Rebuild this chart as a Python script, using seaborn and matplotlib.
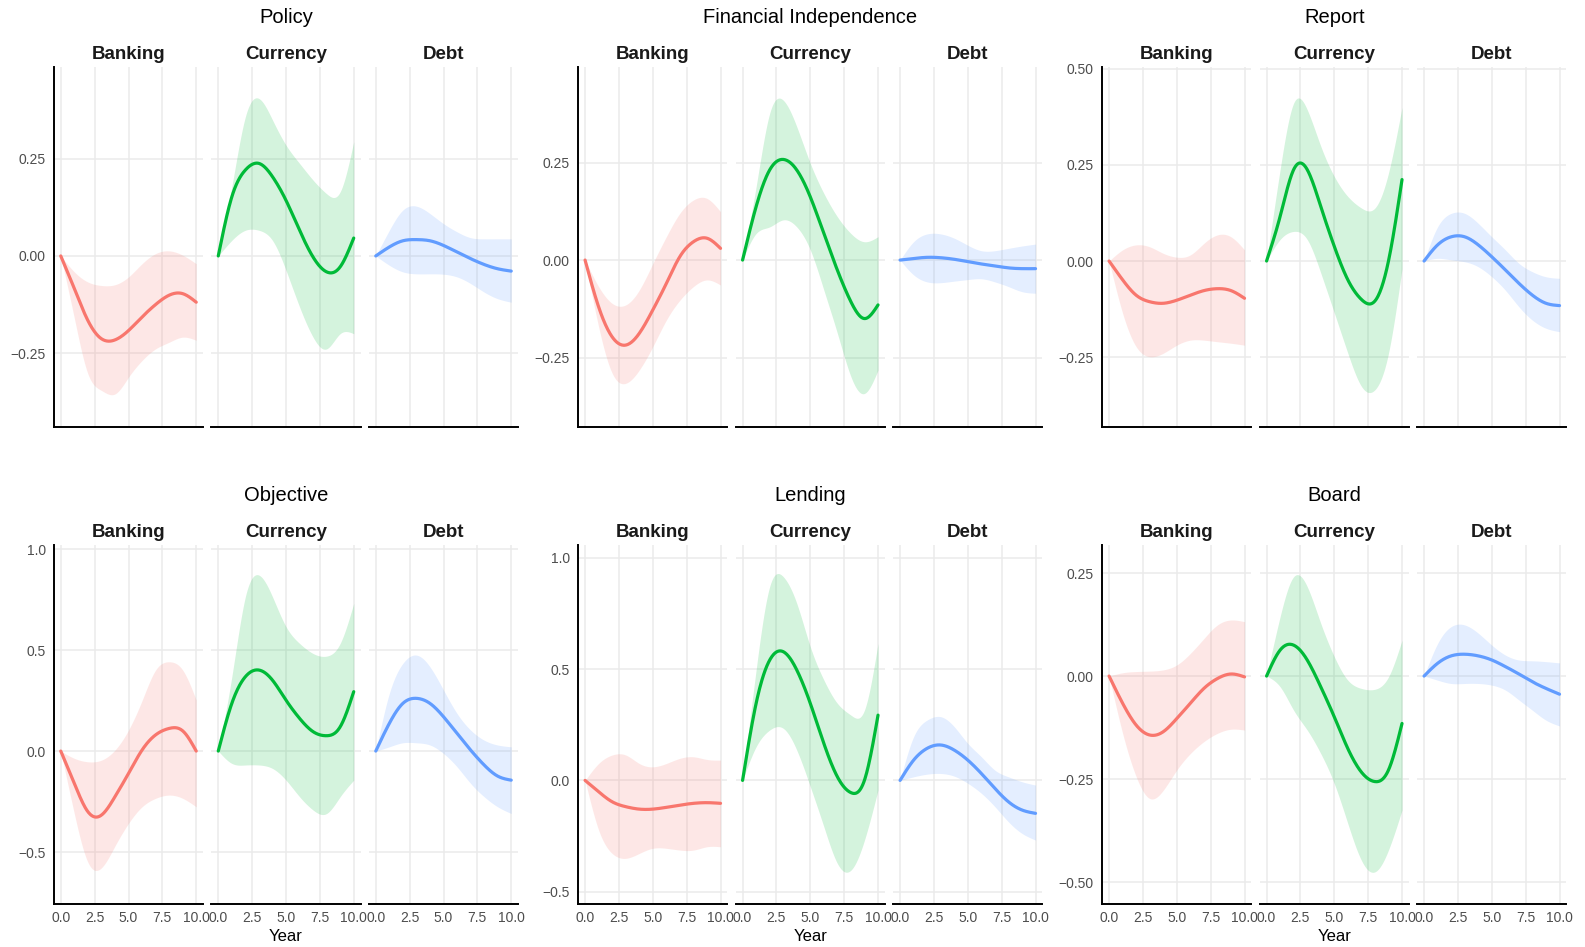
import numpy as np
import pandas as pd
import matplotlib
matplotlib.use("Agg")
import matplotlib.pyplot as plt
import seaborn as sns

# ---------------------------------------------------------------------------
# Data: fitted trend with lower / upper confidence band, sampled at Year 0..10
# ---------------------------------------------------------------------------
years = [0, 1, 2, 3, 4, 5, 6, 7, 8, 9, 10]
facets = ["Banking", "Currency", "Debt"]
groups = ["Policy", "Financial Independence", "Report", "Objective", "Lending", "Board"]

policy_banking = [0, -0.084, -0.166, -0.213, -0.216, -0.192, -0.157, -0.125, -0.101, -0.097, -0.119]
policy_banking_lo = [0, -0.16, -0.303, -0.346, -0.355, -0.312, -0.269, -0.239, -0.222, -0.209, -0.217]
policy_banking_hi = [0, -0.041, -0.067, -0.076, -0.074, -0.054, -0.02, 0.006, 0.013, 0.002, -0.02]
policy_currency = [0, 0.152, 0.221, 0.238, 0.204, 0.143, 0.066, -0.003, -0.041, -0.028, 0.046]
policy_currency_lo = [0, 0.04, 0.066, 0.066, 0.04, -0.037, -0.131, -0.209, -0.239, -0.20, -0.20]
policy_currency_hi = [0, 0.178, 0.358, 0.405, 0.35, 0.285, 0.238, 0.195, 0.16, 0.165, 0.294]
policy_debt = [0, 0.023, 0.039, 0.042, 0.039, 0.027, 0.01, -0.007, -0.022, -0.033, -0.039]
policy_debt_lo = [0, -0.024, -0.041, -0.046, -0.046, -0.047, -0.054, -0.071, -0.093, -0.11, -0.119]
policy_debt_hi = [0, 0.066, 0.118, 0.128, 0.109, 0.083, 0.062, 0.047, 0.044, 0.044, 0.044]

finind_banking = [0, -0.12, -0.197, -0.218, -0.188, -0.128, -0.06, 0.009, 0.047, 0.056, 0.03]
finind_banking_lo = [0, -0.171, -0.29, -0.316, -0.282, -0.222, -0.154, -0.103, -0.068, -0.051, -0.064]
finind_banking_hi = [0, -0.068, -0.111, -0.115, -0.077, -0.009, 0.06, 0.12, 0.154, 0.158, 0.124]
finind_currency = [0, 0.137, 0.231, 0.258, 0.231, 0.162, 0.068, -0.026, -0.107, -0.15, -0.115]
finind_currency_lo = [0, 0.068, 0.085, 0.103, 0.085, 0.026, -0.077, -0.188, -0.299, -0.342, -0.282]
finind_currency_hi = [0, 0.188, 0.376, 0.41, 0.342, 0.248, 0.171, 0.111, 0.068, 0.047, 0.06]
finind_debt = [0, 0.004, 0.007, 0.006, 0.002, -0.004, -0.01, -0.015, -0.02, -0.022, -0.022]
finind_debt_lo = [0, -0.038, -0.056, -0.058, -0.054, -0.05, -0.048, -0.056, -0.068, -0.081, -0.085]
finind_debt_hi = [0, 0.047, 0.067, 0.067, 0.056, 0.038, 0.024, 0.024, 0.03, 0.036, 0.041]

report_banking = [0, -0.049, -0.089, -0.106, -0.11, -0.102, -0.089, -0.077, -0.072, -0.077, -0.097]
report_banking_lo = [0, -0.136, -0.223, -0.249, -0.24, -0.219, -0.206, -0.206, -0.21, -0.214, -0.219]
report_banking_hi = [0, 0.029, 0.042, 0.037, 0.02, 0.01, 0.016, 0.046, 0.068, 0.063, 0.029]
report_currency = [0, 0.116, 0.238, 0.238, 0.142, 0.038, -0.049, -0.10, -0.104, 0.0, 0.212]
report_currency_lo = [0, 0.056, 0.077, 0.056, -0.031, -0.135, -0.24, -0.326, -0.335, -0.24, -0.02]
report_currency_hi = [0, 0.238, 0.411, 0.394, 0.299, 0.22, 0.168, 0.138, 0.138, 0.229, 0.40]
report_debt = [0, 0.042, 0.063, 0.063, 0.042, 0.011, -0.023, -0.058, -0.089, -0.11, -0.116]
report_debt_lo = [0, 0.007, 0.003, -0.002, -0.015, -0.041, -0.076, -0.119, -0.154, -0.175, -0.184]
report_debt_hi = [0, 0.089, 0.124, 0.124, 0.098, 0.063, 0.029, -0.006, -0.028, -0.041, -0.045]

objective_banking = [0, -0.16, -0.30, -0.317, -0.226, -0.111, 0.005, 0.08, 0.112, 0.10, 0.0]
objective_banking_lo = [0, -0.31, -0.55, -0.578, -0.47, -0.358, -0.276, -0.234, -0.218, -0.234, -0.276]
objective_banking_hi = [0, -0.036, -0.053, -0.045, 0.005, 0.104, 0.25, 0.401, 0.442, 0.401, 0.252]
objective_currency = [0, 0.236, 0.368, 0.401, 0.351, 0.252, 0.162, 0.096, 0.076, 0.12, 0.294]
objective_currency_lo = [0, -0.061, -0.069, -0.069, -0.086, -0.144, -0.226, -0.292, -0.309, -0.226, -0.144]
objective_currency_hi = [0, 0.368, 0.764, 0.871, 0.764, 0.616, 0.533, 0.483, 0.47, 0.533, 0.731]
objective_debt = [0, 0.137, 0.236, 0.261, 0.236, 0.17, 0.087, 0.005, -0.069, -0.124, -0.144]
objective_debt_lo = [0, 0.021, 0.041, 0.041, 0.03, -0.012, -0.078, -0.16, -0.226, -0.276, -0.309]
objective_debt_hi = [0, 0.285, 0.434, 0.475, 0.417, 0.302, 0.186, 0.104, 0.054, 0.03, 0.021]

lending_banking = [0, -0.051, -0.096, -0.118, -0.129, -0.129, -0.121, -0.111, -0.103, -0.10, -0.103]
lending_banking_lo = [0, -0.223, -0.328, -0.35, -0.328, -0.305, -0.305, -0.313, -0.313, -0.298, -0.298]
lending_banking_hi = [0, 0.076, 0.114, 0.114, 0.076, 0.061, 0.076, 0.099, 0.106, 0.094, 0.091]
lending_currency = [0, 0.346, 0.54, 0.578, 0.496, 0.346, 0.166, 0.016, -0.055, 0.001, 0.293]
lending_currency_lo = [0, 0.151, 0.226, 0.234, 0.136, -0.028, -0.208, -0.373, -0.403, -0.268, -0.043]
lending_currency_hi = [0, 0.496, 0.87, 0.915, 0.795, 0.60, 0.451, 0.346, 0.293, 0.316, 0.615]
lending_debt = [0, 0.091, 0.144, 0.159, 0.136, 0.091, 0.031, -0.036, -0.096, -0.133, -0.148]
lending_debt_lo = [0, 0.016, 0.028, 0.031, 0.019, -0.013, -0.058, -0.118, -0.186, -0.238, -0.268]
lending_debt_hi = [0, 0.196, 0.271, 0.286, 0.241, 0.166, 0.106, 0.046, 0.016, -0.006, -0.021]

board_banking = [0, -0.066, -0.119, -0.143, -0.135, -0.103, -0.066, -0.03, -0.006, 0.005, -0.002]
board_banking_lo = [0, -0.139, -0.244, -0.297, -0.277, -0.228, -0.188, -0.159, -0.139, -0.129, -0.131]
board_banking_hi = [0, 0.008, 0.011, 0.012, 0.015, 0.027, 0.055, 0.091, 0.124, 0.136, 0.132]
board_currency = [0, 0.063, 0.075, 0.039, -0.026, -0.099, -0.176, -0.233, -0.256, -0.228, -0.115]
board_currency_lo = [0, -0.026, -0.083, -0.131, -0.188, -0.261, -0.358, -0.447, -0.475, -0.422, -0.325]
board_currency_hi = [0, 0.144, 0.241, 0.217, 0.128, 0.047, -0.01, -0.03, -0.032, -0.002, 0.087]
board_debt = [0, 0.031, 0.049, 0.053, 0.049, 0.039, 0.023, 0.005, -0.014, -0.03, -0.044]
board_debt_lo = [0, -0.01, -0.018, -0.018, -0.018, -0.022, -0.034, -0.058, -0.083, -0.107, -0.121]
board_debt_hi = [0, 0.079, 0.12, 0.124, 0.104, 0.075, 0.051, 0.039, 0.037, 0.035, 0.032]

# y-axis settings for each group: limits, ticks, tick-label decimals
y_limits = {
    "Policy": (-0.44, 0.486),
    "Financial Independence": (-0.428, 0.495),
    "Report": (-0.432, 0.505),
    "Objective": (-0.757, 1.02),
    "Lending": (-0.555, 1.057),
    "Board": (-0.553, 0.318),
}
y_ticks = {
    "Policy": [-0.25, 0.0, 0.25],
    "Financial Independence": [-0.25, 0.0, 0.25],
    "Report": [-0.25, 0.0, 0.25, 0.50],
    "Objective": [-0.5, 0.0, 0.5, 1.0],
    "Lending": [-0.5, 0.0, 0.5, 1.0],
    "Board": [-0.50, -0.25, 0.0, 0.25],
}
y_decimals = {"Policy": 2, "Financial Independence": 2, "Report": 2,
              "Objective": 1, "Lending": 1, "Board": 2}
x_ticks = [0.0, 2.5, 5.0, 7.5, 10.0]

# Assemble the long table from the named series
series = {
    ("Policy", "Banking"): (policy_banking, policy_banking_lo, policy_banking_hi),
    ("Policy", "Currency"): (policy_currency, policy_currency_lo, policy_currency_hi),
    ("Policy", "Debt"): (policy_debt, policy_debt_lo, policy_debt_hi),
    ("Financial Independence", "Banking"): (finind_banking, finind_banking_lo, finind_banking_hi),
    ("Financial Independence", "Currency"): (finind_currency, finind_currency_lo, finind_currency_hi),
    ("Financial Independence", "Debt"): (finind_debt, finind_debt_lo, finind_debt_hi),
    ("Report", "Banking"): (report_banking, report_banking_lo, report_banking_hi),
    ("Report", "Currency"): (report_currency, report_currency_lo, report_currency_hi),
    ("Report", "Debt"): (report_debt, report_debt_lo, report_debt_hi),
    ("Objective", "Banking"): (objective_banking, objective_banking_lo, objective_banking_hi),
    ("Objective", "Currency"): (objective_currency, objective_currency_lo, objective_currency_hi),
    ("Objective", "Debt"): (objective_debt, objective_debt_lo, objective_debt_hi),
    ("Lending", "Banking"): (lending_banking, lending_banking_lo, lending_banking_hi),
    ("Lending", "Currency"): (lending_currency, lending_currency_lo, lending_currency_hi),
    ("Lending", "Debt"): (lending_debt, lending_debt_lo, lending_debt_hi),
    ("Board", "Banking"): (board_banking, board_banking_lo, board_banking_hi),
    ("Board", "Currency"): (board_currency, board_currency_lo, board_currency_hi),
    ("Board", "Debt"): (board_debt, board_debt_lo, board_debt_hi),
}
rows = []
for (g, f), (fit, lo, hi) in series.items():
    for yr, a, b, c in zip(years, fit, lo, hi):
        rows.append({"group": g, "facet": f, "Year": yr, "fit": a, "lower": b, "upper": c})
df = pd.DataFrame(rows)


def spline(x, y, n=240):
    """Natural cubic spline through the sampled points, for a smooth drawn curve."""
    x = np.asarray(x, float)
    y = np.asarray(y, float)
    m = len(x)
    h = np.diff(x)
    A = np.zeros((m, m))
    rhs = np.zeros(m)
    A[0, 0] = A[-1, -1] = 1.0
    for i in range(1, m - 1):
        A[i, i - 1] = h[i - 1]
        A[i, i] = 2 * (h[i - 1] + h[i])
        A[i, i + 1] = h[i]
        rhs[i] = 3 * ((y[i + 1] - y[i]) / h[i] - (y[i] - y[i - 1]) / h[i - 1])
    c = np.linalg.solve(A, rhs)
    b = (y[1:] - y[:-1]) / h - h * (2 * c[:-1] + c[1:]) / 3
    d = (c[1:] - c[:-1]) / (3 * h)
    xs = np.linspace(x[0], x[-1], n)
    k = np.clip(np.searchsorted(x, xs, side="right") - 1, 0, m - 2)
    t = xs - x[k]
    return xs, y[k] + b[k] * t + c[k] * t ** 2 + d[k] * t ** 3


# ---------------------------------------------------------------------------
# Styling
# ---------------------------------------------------------------------------
sns.set_theme(style="white")
plt.rcParams["font.family"] = ["Liberation Sans", "DejaVu Sans"]
plt.rcParams["axes.unicode_minus"] = True

palette = dict(zip(facets, ["#F8766D", "#00BA38", "#619CFF"]))
GRID = "#EBEBEB"
TICK = "#4D4D4D"

W, H = 1585, 947
fig = plt.figure(figsize=(W / 100, H / 100), dpi=100)
fig.patch.set_facecolor("white")


def box(left, top, width, height):
    return [left / W, 1 - (top + height) / H, width / W, height / H]


# panel geometry in pixels: first-panel left edge per column, shared width / gap
col_left = [54.0, 578.3, 1102.3]
PANEL_W, GAP = 149.0, 8.5
row_geom = [(67.0, 360.0), (545.0, 359.0)]

for gi, g in enumerate(groups):
    r, cidx = divmod(gi, 3)
    left0 = col_left[cidx]
    top, ph = row_geom[r]
    lo_y, hi_y = y_limits[g]
    sub_g = df[df["group"] == g]
    for fi, f in enumerate(facets):
        ax = fig.add_axes(box(left0 + fi * (PANEL_W + GAP), top, PANEL_W, ph))
        ax.set_facecolor("white")
        sub = sub_g[sub_g["facet"] == f]
        col = palette[f]

        xs, ylo = spline(sub["Year"], sub["lower"])
        _, yhi = spline(sub["Year"], sub["upper"])
        _, yfit = spline(sub["Year"], sub["fit"])
        ax.fill_between(xs, ylo, yhi, color=col, alpha=0.17, lw=0, zorder=2)
        curve = pd.DataFrame({"Year": xs, "value": yfit})
        sns.lineplot(data=curve, x="Year", y="value", ax=ax, color=col,
                     lw=2.3, zorder=3, estimator=None, sort=False)

        ax.set_xlim(-0.5, 10.5)
        ax.set_ylim(lo_y, hi_y)
        ax.set_xticks(x_ticks)
        ax.set_yticks(y_ticks[g])
        ax.grid(True, color=GRID, lw=1.1, zorder=0)
        ax.set_axisbelow(True)
        for s in ["top", "right"]:
            ax.spines[s].set_visible(False)
        ax.spines["bottom"].set_color("black")
        ax.spines["bottom"].set_linewidth(1.4)
        if fi == 0:
            ax.spines["left"].set_color("black")
            ax.spines["left"].set_linewidth(1.4)
            dec = y_decimals[g]
            ax.set_yticklabels([f"{v:.{dec}f}".replace("-", "\u2212") for v in y_ticks[g]])
        else:
            ax.spines["left"].set_visible(False)
            ax.set_yticklabels([])
        if r == 1:
            ax.set_xticklabels([f"{v:.1f}" for v in x_ticks])
        else:
            ax.set_xticklabels([])
        ax.tick_params(axis="both", length=0, labelsize=10, labelcolor=TICK)
        ax.tick_params(axis="y", pad=6)
        ax.tick_params(axis="x", pad=5)
        ax.set_xlabel("Year" if (r == 1 and fi == 1) else "", fontsize=12, labelpad=3, color="black")
        ax.set_ylabel("")
        ax.set_title(f, fontsize=13.5, fontweight="bold", pad=6, color="#1A1A1A")

    # group heading centred over the middle panel
    cx = left0 + PANEL_W + GAP + PANEL_W / 2
    fig.text(cx / W, 1 - (top - 44) / H, g, ha="center", va="baseline", fontsize=14.5, color="black")

fig.savefig("out.png", dpi=100, facecolor="white")
